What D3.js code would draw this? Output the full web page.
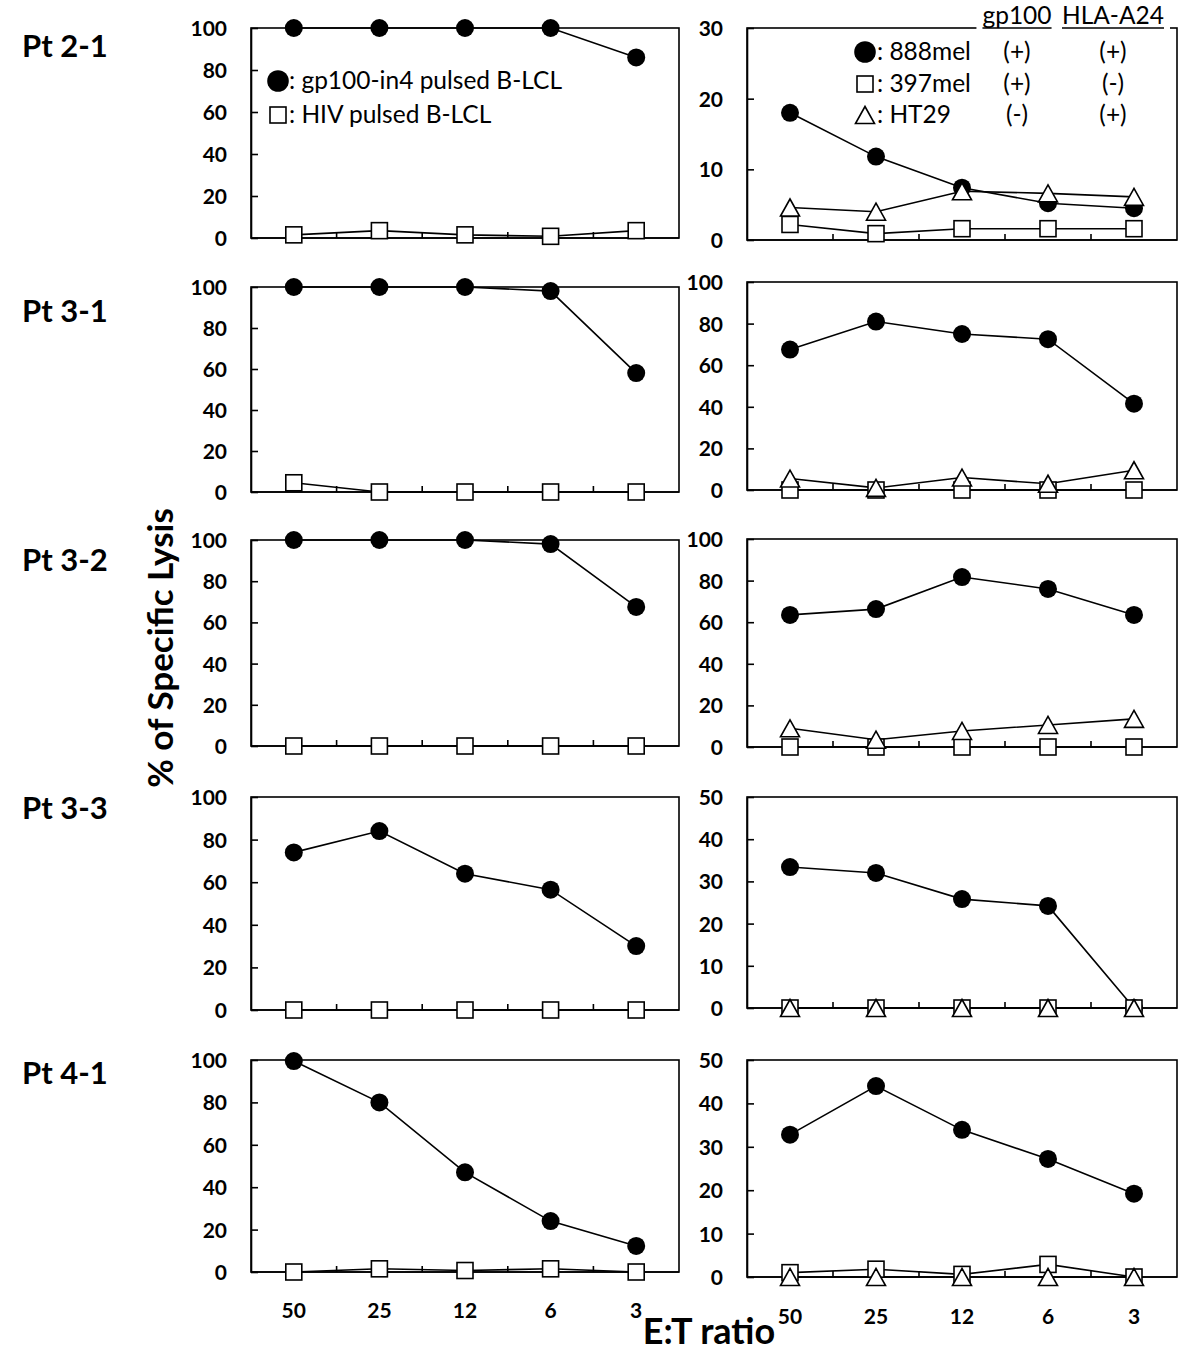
<!DOCTYPE html>
<html>
<head>
<meta charset="utf-8">
<script src="https://cdn.jsdelivr.net/npm/d3@7"></script>
<style>
  html, body { margin: 0; padding: 0; background: #fff; }
  svg { display: block; font-family: Lato, "Open Sans", "DejaVu Sans", sans-serif; }
</style>
</head>
<body>
<svg id="chart" width="1200" height="1358"></svg>
<script>
// ---------------- data ----------------
const etRatios = ["50", "25", "12", "6", "3"];
const patients = ["Pt 2-1", "Pt 3-1", "Pt 3-2", "Pt 3-3", "Pt 4-1"];

// left panels: peptide-pulsed B-LCL targets
const gp100PulsedLysis = [
  [100, 100, 100, 100, 86],
  [100, 100, 100, 98, 58],
  [100, 100, 100, 98, 67.5],
  [74, 84, 64, 56.5, 30],
  [99.5, 80, 47, 24, 12.3]
];
const hivPulsedLysis = [
  [1.5, 3.5, 1.5, 0.8, 3.5],
  [4.5, 0, 0, 0, 0],
  [0, 0, 0, 0, 0],
  [0, 0, 0, 0, 0],
  [0, 1.5, 0.7, 1.5, 0]
];

// right panels: tumour cell lines
const mel888Lysis = [
  [18, 11.8, 7.4, 5.2, 4.5],
  [67.5, 81, 75, 72.5, 41.5],
  [63.5, 66.3, 81.7, 76, 63.5],
  [33.4, 32, 25.8, 24.2, 0],
  [32.8, 44, 33.9, 27.2, 19.2]
];
const mel397Lysis = [
  [2.2, 0.9, 1.6, 1.6, 1.6],
  [0, 0, 0, 0, 0],
  [0, 0, 0, 0, 0],
  [0, 0, 0, 0, 0],
  [1, 1.8, 0.6, 2.9, 0]
];
const ht29Lysis = [
  [4.6, 4.0, 6.9, 6.6, 6.1],
  [5.5, 1, 6, 3, 9.5],
  [9, 3.5, 7.7, 10.6, 13.5],
  [0, 0, 0, 0, 0],
  [0, 0, 0, 0, 0]
];

const leftYMax = [100, 100, 100, 100, 100];
const leftYStep = [20, 20, 20, 20, 20];
const rightYMax = [30, 100, 100, 50, 50];
const rightYStep = [10, 20, 20, 10, 10];

const leftLegendLabels = [": gp100-in4 pulsed B-LCL", ": HIV pulsed B-LCL"];
const rightLegendLabels = [": 888mel", ": 397mel", ": HT29"];
const legendHeaders = ["gp100", "HLA-A24"];
const gp100Status = ["(+)", "(+)", "(-)"];
const hlaA24Status = ["(+)", "(-)", "(+)"];

const yAxisTitle = "% of Specific Lysis";
const xAxisTitle = "E:T ratio";

// ---------------- layout ----------------
const svg = d3.select("#chart");
const leftX = [251, 679];
const rightX = [747, 1177];
const leftTop = [28, 287, 540, 797, 1060];
const leftBottom = [238, 492, 746, 1010, 1272];
const rightTop = [28, 282, 539, 797, 1060];
const rightBottom = [240, 490, 747, 1008, 1277];
const labelBase = [57, 322, 571, 819, 1084];

const FONT = 'Lato, "Open Sans", sans-serif';
const STROKE = 1.6;

function tickValues(max, step) {
  return d3.range(0, max + step / 2, step);
}

function drawMarker(g, type, cx, cy, big) {
  const s = big ? 1.2 : 1;
  if (type === "circle") {
    g.append("circle").attr("cx", cx).attr("cy", cy).attr("r", 9 * s)
      .attr("fill", "#000");
  } else if (type === "square") {
    const h = 8 * s;
    g.append("rect").attr("x", cx - h).attr("y", cy - h)
      .attr("width", 2 * h).attr("height", 2 * h)
      .attr("fill", "#fff").attr("stroke", "#000").attr("stroke-width", STROKE);
  } else {
    const w = 9.5 * s, h = 8.5 * s;
    g.append("path")
      .attr("d", `M${cx},${cy - h}L${cx + w},${cy + h}L${cx - w},${cy + h}Z`)
      .attr("fill", "#fff").attr("stroke", "#000").attr("stroke-width", STROKE);
  }
}

function drawPanel(xr, top, bottom, yMax, yStep, seriesList, showXLabels, xLabelOffset) {
  const g = svg.append("g");
  const x = d3.scalePoint().domain(etRatios).range(xr).padding(0.5);
  const y = d3.scaleLinear().domain([0, yMax]).range([bottom, top]);

  // frame
  g.append("rect").attr("class", "frame")
    .attr("x", xr[0]).attr("y", top)
    .attr("width", xr[1] - xr[0]).attr("height", bottom - top)
    .attr("fill", "none").attr("stroke", "#000").attr("stroke-width", STROKE);

  // y axis (ticks pointing inward)
  const yAxis = d3.axisLeft(y).tickValues(tickValues(yMax, yStep))
    .tickSizeInner(-7).tickSizeOuter(0).tickPadding(24)
    .tickFormat(d3.format("d"));
  const ya = g.append("g").attr("transform", `translate(${xr[0]},0)`).call(yAxis);
  ya.select(".domain").attr("stroke", "#000").attr("stroke-width", STROKE);
  ya.selectAll(".tick line").attr("stroke", "#000").attr("stroke-width", STROKE);
  ya.selectAll(".tick text").attr("font-family", FONT).attr("font-weight", 700)
    .attr("font-size", 21).attr("fill", "#000").attr("dy", "0.36em");

  // x axis (category boundary ticks pointing inward)
  const step = x.step();
  const bounds = d3.range(1, etRatios.length).map(i => xr[0] + i * step);
  g.append("line").attr("x1", xr[0]).attr("x2", xr[1]).attr("y1", bottom).attr("y2", bottom)
    .attr("stroke", "#000").attr("stroke-width", STROKE);
  g.selectAll("line.xt").data(bounds).enter().append("line").attr("class", "xt")
    .attr("x1", d => d).attr("x2", d => d)
    .attr("y1", bottom).attr("y2", bottom - 6)
    .attr("stroke", "#000").attr("stroke-width", STROKE);

  if (showXLabels) {
    g.selectAll("text.xl").data(etRatios).enter().append("text").attr("class", "xl")
      .attr("x", d => x(d)).attr("y", bottom + xLabelOffset)
      .attr("text-anchor", "middle")
      .attr("font-family", FONT).attr("font-weight", 700).attr("font-size", 21)
      .text(d => d);
  }

  const line = d3.line().x((d, i) => x(etRatios[i])).y(d => y(d));
  seriesList.forEach(s => {
    g.append("path").datum(s.values).attr("d", line)
      .attr("fill", "none").attr("stroke", "#000").attr("stroke-width", STROKE);
  });
  seriesList.forEach(s => {
    s.values.forEach((v, i) => drawMarker(g, s.type, x(etRatios[i]), y(v)));
  });
  return { g, x, y };
}

patients.forEach((p, r) => {
  // patient label
  svg.append("text").attr("x", 22).attr("y", labelBase[r])
    .attr("font-family", FONT).attr("font-weight", 700).attr("font-size", 31)
    .text(p);

  const last = r === patients.length - 1;
  drawPanel(leftX, leftTop[r], leftBottom[r], leftYMax[r], leftYStep[r], [
    { type: "square", values: hivPulsedLysis[r] },
    { type: "circle", values: gp100PulsedLysis[r] }
  ], last, 46);

  drawPanel(rightX, rightTop[r], rightBottom[r], rightYMax[r], rightYStep[r], [
    { type: "circle", values: mel888Lysis[r] },
    { type: "square", values: mel397Lysis[r] },
    { type: "triangle", values: ht29Lysis[r] }
  ], last, 47);

  if (r === 0) {
    // left legend
    const lg = svg.append("g");
    const types = ["circle", "square"];
    const ly = [81, 115];
    leftLegendLabels.forEach((t, i) => {
      drawMarker(lg, types[i], 278, ly[i], i === 0);
      lg.append("text").attr("x", 289).attr("y", ly[i] + 8)
        .attr("font-family", FONT).attr("font-size", 24.5).text(t);
    });

    // right legend header over top frame
    const hg = svg.append("g");
    const hx = [1017, 1113];
    legendHeaders.forEach((t, i) => {
      const txt = hg.append("text").attr("x", hx[i]).attr("y", 24)
        .attr("text-anchor", "middle")
        .attr("font-family", FONT).attr("font-size", 24.5).text(t);
      const bb = txt.node().getBBox();
      hg.insert("rect", "text").attr("x", bb.x - 6).attr("y", rightTop[0] - 3)
        .attr("width", bb.width + 12).attr("height", 6).attr("fill", "#fff");
      hg.append("line").attr("x1", bb.x).attr("x2", bb.x + bb.width)
        .attr("y1", rightTop[0]).attr("y2", rightTop[0])
        .attr("stroke", "#000").attr("stroke-width", 1.3);
    });

    const rg = svg.append("g");
    const rtypes = ["circle", "square", "triangle"];
    const ry = [52, 84, 115];
    rightLegendLabels.forEach((t, i) => {
      drawMarker(rg, rtypes[i], 865, ry[i], i === 0);
      rg.append("text").attr("x", 877).attr("y", ry[i] + 8)
        .attr("font-family", FONT).attr("font-size", 24.5).text(t);
      rg.append("text").attr("x", hx[0]).attr("y", ry[i] + 8).attr("text-anchor", "middle")
        .attr("font-family", FONT).attr("font-size", 24.5).text(gp100Status[i]);
      rg.append("text").attr("x", hx[1]).attr("y", ry[i] + 8).attr("text-anchor", "middle")
        .attr("font-family", FONT).attr("font-size", 24.5).text(hlaA24Status[i]);
    });
  }
});

// axis titles
svg.append("text")
  .attr("transform", "translate(173,648) rotate(-90)")
  .attr("text-anchor", "middle")
  .attr("font-family", FONT).attr("font-weight", 700).attr("font-size", 35)
  .text(yAxisTitle);
svg.append("text").attr("x", 709).attr("y", 1344).attr("text-anchor", "middle")
  .attr("font-family", FONT).attr("font-weight", 700).attr("font-size", 36)
  .text(xAxisTitle);
</script>
</body>
</html>
